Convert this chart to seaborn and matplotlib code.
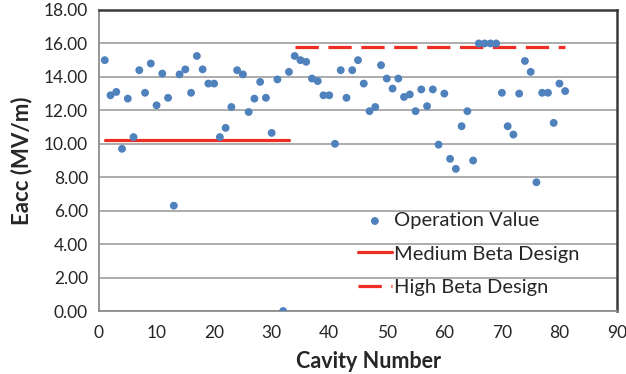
import matplotlib
matplotlib.use("Agg")
import matplotlib.pyplot as plt
import seaborn as sns
import pandas as pd
import numpy as np

# ---- data ----
cavity = list(range(1, 82))
eacc = [15.0, 12.9, 13.1, 9.7, 12.7, 10.4, 14.4, 13.05, 14.8, 12.3,
        14.2, 12.75, 6.3, 14.15, 14.45, 13.05, 15.25, 14.45, 13.6, 13.6,
        10.4, 10.95, 12.2, 14.4, 14.15, 11.9, 12.7, 13.7, 12.75, 10.65,
        13.85, 0.0, 14.3, 15.25, 15.0, 14.9, 13.9, 13.75, 12.9, 12.9,
        10.0, 14.4, 12.75, 14.4, 15.0, 13.6, 11.95, 12.2, 14.7, 13.9,
        13.3, 13.9, 12.8, 12.95, 11.95, 13.25, 12.25, 13.25, 9.95, 13.0,
        9.1, 8.5, 11.05, 11.95, 9.0, 16.0, 16.0, 16.0, 16.0, 13.05,
        11.05, 10.55, 13.0, 14.95, 14.3, 7.7, 13.05, 13.05, 11.25, 13.6,
        13.15]
medium_x = [1, 33]
medium_y = [10.2, 10.2]
high_x = [34, 81]
high_y = [15.8, 15.8]
series_labels = ["Operation Value", "Medium Beta Design", "High Beta Design"]
x_ticks = list(range(0, 100, 10))
y_ticks = [0, 2, 4, 6, 8, 10, 12, 14, 16, 18]

df = pd.DataFrame({"Cavity Number": cavity, "Eacc": eacc})
df_med = pd.DataFrame({"x": medium_x, "y": medium_y})
df_high = pd.DataFrame({"x": high_x, "y": high_y})

sns.set_style("white")
plt.rcParams['font.family'] = ['Lato', 'DejaVu Sans']

fig = plt.figure(figsize=(6.26, 3.74), dpi=100)
ax = fig.add_axes([99/626, 1 - 311/374, (617-99)/626, (311-10)/374])

red = "#EE2D24"
blue = "#4F81BD"

ax.grid(axis='y', color='#A6A6A6', linewidth=1.3, zorder=0)
ax.set_axisbelow(True)

sns.scatterplot(data=df, x="Cavity Number", y="Eacc", ax=ax, color=blue,
                s=32, edgecolor='none', label=series_labels[0], zorder=3)
sns.lineplot(data=df_med, x="x", y="y", ax=ax, color=red, linewidth=2.3,
             label=series_labels[1], zorder=2)
sns.lineplot(data=df_high, x="x", y="y", ax=ax, color=red, linewidth=2.3,
             dashes=False, label=series_labels[2], zorder=2)
ax.lines[-1].set_dashes([7.3, 3.0])

ax.set_xlim(0, 90)
ax.set_ylim(0, 18)
ax.set_xticks(x_ticks)
ax.set_yticks(y_ticks)
ax.set_yticklabels([f"{v:.2f}" for v in y_ticks])

ax.tick_params(axis='both', labelsize=12.5, colors='#404040', length=5,
               width=1.2, direction='out', labelcolor='#262626')
ax.tick_params(axis='y', pad=3)
ax.tick_params(axis='x', pad=5)

for side in ['left', 'bottom']:
    ax.spines[side].set_color('#8C8C8C')
    ax.spines[side].set_linewidth(1.3)
for side in ['top', 'right']:
    ax.spines[side].set_color('#3A3A3A')
    ax.spines[side].set_linewidth(1.8)

ax.set_xlabel("Cavity Number", fontsize=15.5, fontweight='bold', color='#262626')
ax.xaxis.set_label_coords(0.52, -0.132)
ax.set_ylabel("Eacc (MV/m)", fontsize=16, fontweight='bold', color='#262626')
ax.yaxis.set_label_coords(-0.129, 0.5)

leg = ax.legend(loc='upper left', bbox_to_anchor=(0.484, 0.355), frameon=False,
                fontsize=14.5, handlelength=1.7, handletextpad=0.1,
                labelspacing=0.8, borderaxespad=0)
for t in leg.get_texts():
    t.set_color('#262626')

fig.savefig("out.png", dpi=100)
